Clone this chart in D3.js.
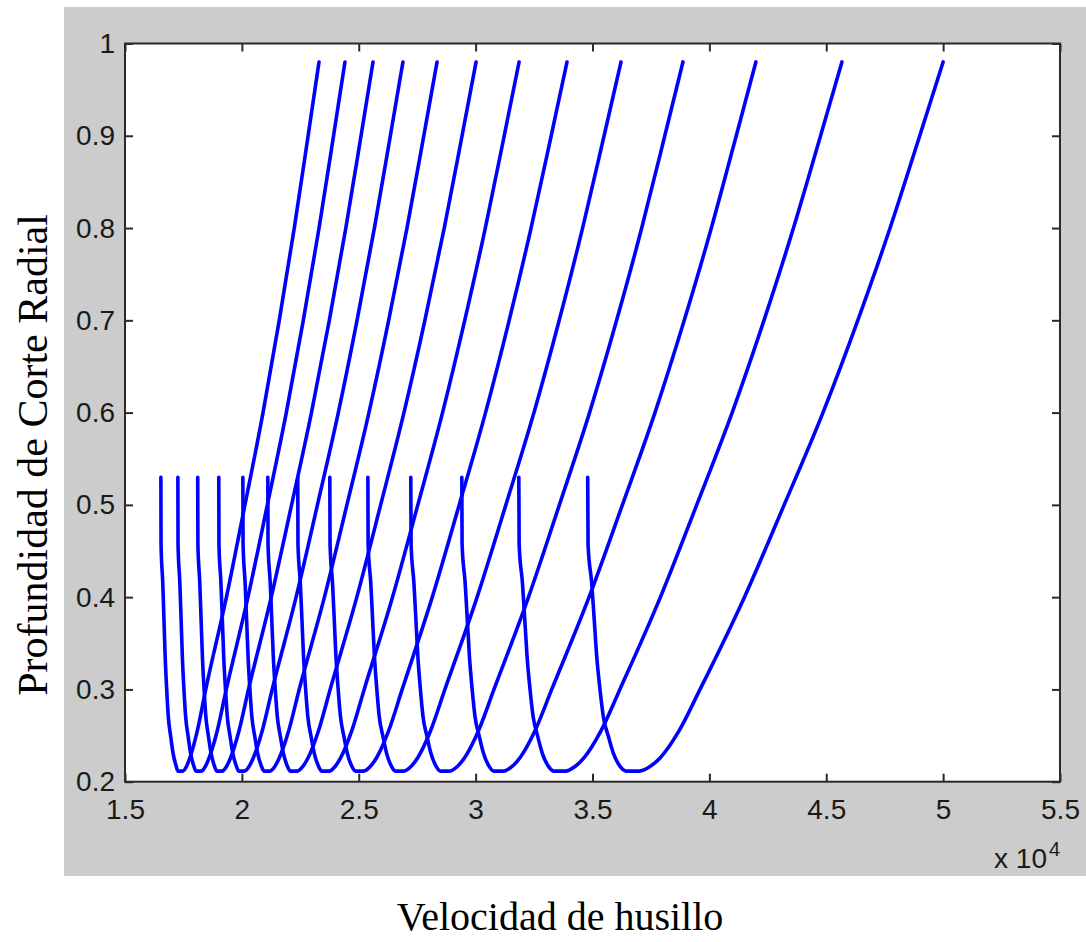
<!DOCTYPE html>
<html>
<head>
<meta charset="utf-8">
<script src="https://cdnjs.cloudflare.com/ajax/libs/d3/7.8.5/d3.min.js"></script>
<style>
  body { margin: 0; background: #ffffff; }
</style>
</head>
<body>
<div id="chart"></div>
<script>
"use strict"

// depth values shared by every lobe (left branch, bottom, right branch)
var depthLevels = [0.53, 0.457, 0.415, 0.379, 0.336, 0.300, 0.271, 0.249, 0.231, 0.2166,
                   0.2115, 0.2115, 0.2165, 0.226, 0.255,
                   0.300, 0.40, 0.50, 0.60, 0.70, 0.80, 0.90, 0.98];

// spindle speed (rpm) of each lobe at those depths
var lobe01 = [16535, 16542, 16616, 16663, 16718, 16784, 16851, 16955, 17055, 17193, 17265, 17469, 17629, 17778, 18093, 18454, 19339, 20131, 20905, 21599, 22242, 22834, 23300];
var lobe02 = [17262, 17269, 17347, 17396, 17453, 17522, 17592, 17701, 17805, 17949, 18035, 18258, 18436, 18602, 18944, 19333, 20260, 21090, 21901, 22628, 23302, 23922, 24410];
var lobe03 = [18111, 18119, 18200, 18251, 18311, 18384, 18457, 18571, 18681, 18832, 18922, 19156, 19342, 19517, 19876, 20283, 21256, 22127, 22977, 23741, 24447, 25098, 25610];
var lobe04 = [19012, 19020, 19105, 19160, 19222, 19299, 19375, 19496, 19610, 19769, 19864, 20111, 20307, 20491, 20868, 21297, 22319, 23233, 24126, 24927, 25669, 26352, 26890];
var lobe05 = [20042, 20051, 20140, 20197, 20264, 20344, 20425, 20552, 20673, 20840, 20941, 21201, 21408, 21603, 22001, 22453, 23531, 24494, 25436, 26280, 27063, 27783, 28350];
var lobe06 = [21110, 21119, 21214, 21274, 21344, 21429, 21514, 21647, 21775, 21950, 22076, 22370, 22609, 22835, 23276, 23776, 24917, 25937, 26934, 27829, 28657, 29420, 30020];
var lobe07 = [22391, 22400, 22501, 22564, 22638, 22728, 22819, 22960, 23095, 23282, 23417, 23732, 23988, 24229, 24700, 25233, 26444, 27527, 28585, 29534, 30414, 31223, 31860];
var lobe08 = [23762, 23772, 23878, 23946, 24024, 24120, 24216, 24366, 24509, 24707, 24863, 25209, 25493, 25763, 26277, 26857, 28145, 29298, 30424, 31435, 32371, 33232, 33910];
var lobe09 = [25390, 25401, 25515, 25587, 25671, 25773, 25875, 26036, 26189, 26401, 26566, 26933, 27235, 27522, 28068, 28686, 30063, 31294, 32497, 33576, 34576, 35496, 36220];
var lobe10 = [27227, 27239, 27361, 27438, 27528, 27638, 27747, 27920, 28084, 28311, 28491, 28890, 29217, 29528, 30118, 30785, 32262, 33584, 34874, 36032, 37105, 38093, 38870];
var lobe11 = [29409, 29421, 29553, 29637, 29734, 29852, 29971, 30157, 30334, 30579, 30775, 31206, 31560, 31897, 32535, 33256, 34852, 36279, 37673, 38925, 40084, 41150, 41990];
var lobe12 = [31848, 31862, 32004, 32095, 32200, 32328, 32457, 32658, 32850, 33116, 33351, 33843, 34252, 34642, 35361, 36171, 37906, 39459, 40975, 42336, 43597, 44757, 45670];
var lobe13 = [34795, 34810, 34966, 35065, 35180, 35320, 35460, 35680, 35890, 36180, 36450, 37000, 37460, 37900, 38700, 39600, 41500, 43200, 44860, 46350, 47730, 49000, 50000];

var lobes = [lobe01, lobe02, lobe03, lobe04, lobe05, lobe06, lobe07,
             lobe08, lobe09, lobe10, lobe11, lobe12, lobe13];

var xTickValues = [15000, 20000, 25000, 30000, 35000, 40000, 45000, 50000, 55000];
var xTickLabels = ["1.5", "2", "2.5", "3", "3.5", "4", "4.5", "5", "5.5"];
var yTickValues = [0.2, 0.3, 0.4, 0.5, 0.6, 0.7, 0.8, 0.9, 1];
var yTickLabels = ["0.2", "0.3", "0.4", "0.5", "0.6", "0.7", "0.8", "0.9", "1"];

var width = 1086,
    height = 942,
    plotLeft = 125,
    plotRight = 1060,
    plotTop = 43.5,
    plotBottom = 781.7,
    tickLen = 8;

var svg = d3.select("#chart").append("svg")
    .attr("width", width)
    .attr("height", height);

// gray figure background
svg.append("rect")
    .attr("x", 64)
    .attr("y", 7)
    .attr("width", width - 64)
    .attr("height", 869)
    .attr("fill", "#cccccc");

svg.append("rect")
    .attr("x", plotLeft)
    .attr("y", plotTop)
    .attr("width", plotRight - plotLeft)
    .attr("height", plotBottom - plotTop)
    .attr("fill", "#ffffff");

var x = d3.scaleLinear()
    .domain([15000, 55000])
    .range([plotLeft, plotRight]);

var y = d3.scaleLinear()
    .domain([0.2, 1])
    .range([plotBottom, plotTop]);

var line = d3.line()
    .x(function(d){ return x(d[0]); })
    .y(function(d){ return y(d[1]); })
    .curve(d3.curveMonotoneX);

svg.append("clipPath").attr("id", "plotClip")
  .append("rect")
    .attr("x", plotLeft)
    .attr("y", plotTop)
    .attr("width", plotRight - plotLeft)
    .attr("height", plotBottom - plotTop);

svg.append("g")
    .attr("clip-path", "url(#plotClip)")
  .selectAll("path")
  .data(lobes)
  .enter().append("path")
    .attr("d", function(speeds){
      return line(speeds.map(function(s, i){ return [s, depthLevels[i]]; }));
    })
    .attr("fill", "none")
    .attr("stroke", "#0000ff")
    .attr("stroke-width", 3.6)
    .attr("stroke-linejoin", "round")
    .attr("stroke-linecap", "round");

// axes, ticks pointing inwards like matlab
var fontTicks = "'Liberation Sans', Arial, sans-serif";

function styleAxis(g){
  g.select(".domain").remove();
  g.selectAll(".tick line")
    .attr("stroke", "#2a2a2a")
    .attr("stroke-width", 2);
  g.selectAll(".tick text")
    .attr("fill", "#1a1a1a")
    .style("font-family", fontTicks)
    .style("font-size", "28px");
}

svg.append("g")
    .attr("transform", "translate(0," + plotBottom + ")")
    .call(d3.axisBottom(x)
      .tickValues(xTickValues)
      .tickFormat(function(d, i){ return xTickLabels[i]; })
      .tickSizeInner(-tickLen)
      .tickSizeOuter(0)
      .tickPadding(17))
    .call(styleAxis);

svg.append("g")
    .attr("transform", "translate(0," + plotTop + ")")
    .call(d3.axisTop(x)
      .tickValues(xTickValues)
      .tickFormat("")
      .tickSizeInner(-tickLen)
      .tickSizeOuter(0))
    .call(styleAxis);

svg.append("g")
    .attr("transform", "translate(" + plotLeft + ",0)")
    .call(d3.axisLeft(y)
      .tickValues(yTickValues)
      .tickFormat(function(d, i){ return yTickLabels[i]; })
      .tickSizeInner(-tickLen)
      .tickSizeOuter(0)
      .tickPadding(10))
    .call(styleAxis);

svg.append("g")
    .attr("transform", "translate(" + plotRight + ",0)")
    .call(d3.axisRight(y)
      .tickValues(yTickValues)
      .tickFormat("")
      .tickSizeInner(-tickLen)
      .tickSizeOuter(0))
    .call(styleAxis);

// plot box
svg.append("rect")
    .attr("x", plotLeft)
    .attr("y", plotTop)
    .attr("width", plotRight - plotLeft)
    .attr("height", plotBottom - plotTop)
    .attr("fill", "none")
    .attr("stroke", "#2a2a2a")
    .attr("stroke-width", 2);

// exponent label
svg.append("text")
    .attr("x", 1047)
    .attr("y", 868)
    .attr("text-anchor", "end")
    .style("font-family", fontTicks)
    .style("font-size", "28px")
    .attr("fill", "#1a1a1a")
    .text("x 10");

svg.append("text")
    .attr("x", 1049)
    .attr("y", 856)
    .style("font-family", fontTicks)
    .style("font-size", "20px")
    .attr("fill", "#1a1a1a")
    .text("4");

// axis titles
svg.append("text")
    .attr("transform", "translate(47,455) rotate(-90)")
    .attr("text-anchor", "middle")
    .style("font-family", "'Liberation Serif', 'Times New Roman', serif")
    .style("font-size", "42px")
    .attr("fill", "#000000")
    .text("Profundidad de Corte Radial");

svg.append("text")
    .attr("x", 560)
    .attr("y", 930)
    .attr("text-anchor", "middle")
    .style("font-family", "'Liberation Serif', 'Times New Roman', serif")
    .style("font-size", "40px")
    .attr("fill", "#000000")
    .text("Velocidad de husillo");
</script>
</body>
</html>
